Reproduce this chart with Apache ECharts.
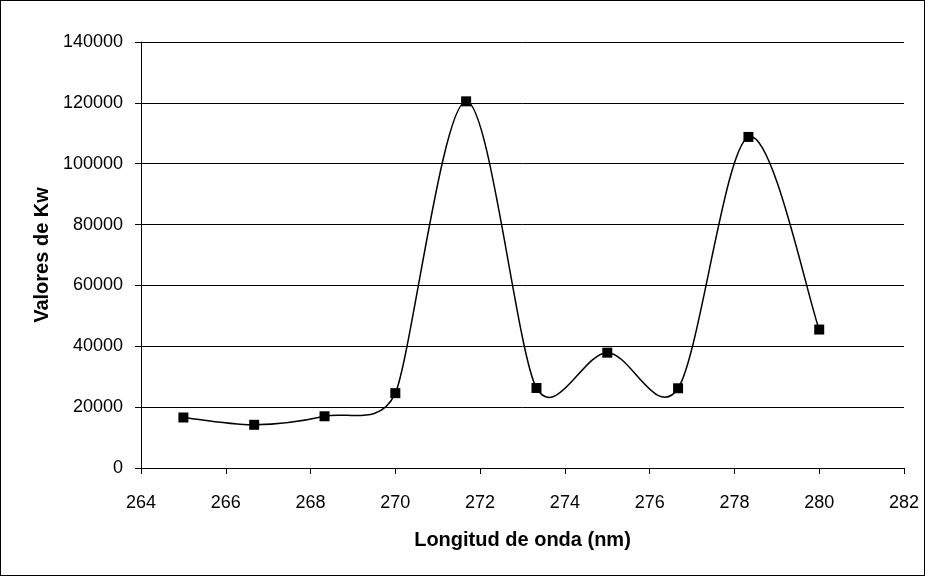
<!DOCTYPE html>
<html>
  <head>
    <meta charset="utf-8" />
    <script src="https://cdn.jsdelivr.net/npm/echarts@6/dist/echarts.min.js"></script>
    <style>
      html, body { margin: 0; padding: 0; background: #fff; }
      #chart { width: 925px; height: 576px; box-sizing: border-box; border: 1px solid #000; }
    </style>
  </head>
  <body>
    <div id="chart"></div>
    <script>
        // Data
        var wavelengths = [265, 266.67, 268.33, 270, 271.67, 273.33, 275, 276.67, 278.33, 280];
        var kwValues = [16600, 14200, 17000, 24600, 120500, 26300, 37900, 26200, 108800, 45500];

        var points = wavelengths.map(function (x, i) { return [x, kwValues[i]]; });

        function dist(a, b) {
            return Math.sqrt((a[0] - b[0]) * (a[0] - b[0]) + (a[1] - b[1]) * (a[1] - b[1]));
        }

        // Excel-style smoothing: tangent parallel to the neighbours' chord,
        // handle length d02/6, capped at half of each adjacent segment
        function handles(p, i) {
            var prev = p[i - 1] || p[i];
            var next = p[i + 1] || p[i];
            var d02 = dist(prev, next);
            if (d02 === 0) return [0, 0];
            var len = d02 / 6;
            if (i > 0) len = Math.min(len, dist(prev, p[i]) / 2);
            if (i < p.length - 1) len = Math.min(len, dist(p[i], next) / 2);
            return [(next[0] - prev[0]) / d02 * len, (next[1] - prev[1]) / d02 * len];
        }

        function renderCurve(params, api) {
            if (params.dataIndex !== 0) return;
            var p = points.map(function (d) { return api.coord(d); });
            var h = p.map(function (pt, i) { return handles(p, i); });
            var path = 'M' + p[0][0] + ' ' + p[0][1];
            for (var i = 0; i < p.length - 1; i++) {
                var a = p[i], b = p[i + 1];
                path += ' C' + (a[0] + h[i][0]) + ' ' + (a[1] + h[i][1]) + ' ' +
                    (b[0] - h[i + 1][0]) + ' ' + (b[1] - h[i + 1][1]) + ' ' + b[0] + ' ' + b[1];
            }
            return {
                type: 'path',
                shape: { pathData: path },
                style: { fill: null, stroke: '#000', lineWidth: 1.5 }
            };
        }

        var chart = echarts.init(document.getElementById('chart'));

        var option = {
            animation: false,
            textStyle: { fontFamily: 'Liberation Sans, Arial, sans-serif' },
            grid: { left: 140, right: 20, top: 41, bottom: 107 },
            xAxis: {
                type: 'value',
                min: 264,
                max: 282,
                interval: 2,
                name: 'Longitud de onda (nm)',
                nameLocation: 'middle',
                nameGap: 62,
                nameTextStyle: { fontSize: 20, fontWeight: 'bold', color: '#000' },
                axisLine: { show: true, lineStyle: { color: '#000', width: 1 } },
                axisTick: { show: true, length: 6, lineStyle: { color: '#000' } },
                axisLabel: { fontSize: 18, color: '#000', margin: 26 },
                splitLine: { show: false }
            },
            yAxis: {
                type: 'value',
                min: 0,
                max: 140000,
                interval: 20000,
                name: 'Valores de Kw',
                nameLocation: 'middle',
                nameGap: 88,
                nameRotate: 90,
                nameTextStyle: { fontSize: 20, fontWeight: 'bold', color: '#000' },
                axisLine: { show: true, lineStyle: { color: '#000', width: 1 } },
                axisTick: { show: true, length: 6, lineStyle: { color: '#000' } },
                axisLabel: { fontSize: 18, color: '#000', margin: 18, formatter: function (v) { return String(v); } },
                splitLine: { show: true, lineStyle: { color: '#000', width: 1 } }
            },
            series: [
                {
                    type: 'custom',
                    renderItem: renderCurve,
                    data: points,
                    encode: { x: 0, y: 1 },
                    silent: true,
                    z: 2
                },
                {
                    type: 'scatter',
                    data: points,
                    symbol: 'rect',
                    symbolSize: 10,
                    itemStyle: { color: '#000', opacity: 1 },
                    z: 3
                }
            ]
        };

        chart.setOption(option);
    </script>
  </body>
</html>
